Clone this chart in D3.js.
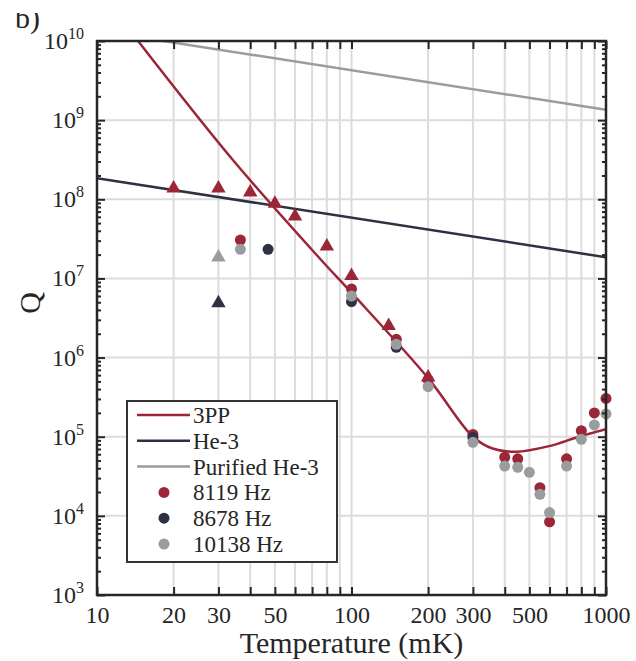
<!DOCTYPE html>
<html>
<head>
<meta charset="utf-8">
<script src="https://cdn.jsdelivr.net/npm/d3@7"></script>
<style>
  body { margin: 0; background: #fff; }
  svg text { font-family: "Liberation Serif", "DejaVu Serif", "Times New Roman", serif !important; fill: #262626; }
</style>
</head>
<body>
<script>
// data (T in mK, Q)
const line3PP = [[14.5,1e10],[34.2,3.13e8],[74.9,1.8e7],[100,6.6e6],[200,5.5e5],[300,1.0e5],[358,7.1e4],[443,6.46e4],[597,7.6e4],[783,1.0e5],[1000,1.24e5]];
const lineHe3 = [[10,1.85e8],[1000,1.85e7]];
const linePurified = [[10,1.35e10],[1000,1.35e9]];

const triRed = [[20,1.34e8],[30,1.34e8],[40,1.19e8],[50,8.6e7],[60,5.9e7],[80,2.47e7],[100,1.05e7],[140,2.45e6],[200,5.47e5]];
const triDark = [[30,4.75e6]];
const triGray = [[30,1.8e7]];

const dots8119 = [[36.6,3.06e7],[100,7.35e6],[150,1.7e6],[200,5.2e5],[300,1.07e5],[400,5.5e4],[450,5.25e4],[550,2.27e4],[600,8.4e3],[700,5.25e4],[800,1.19e5],[900,2.0e5],[1000,3.05e5]];
const dots8678 = [[47,2.33e7],[100,5.1e6],[150,1.35e6],[300,9.8e4]];
const dots10138 = [[36.6,2.33e7],[100,6.0e6],[150,1.47e6],[200,4.29e5],[300,8.5e4],[400,4.26e4],[450,4.1e4],[500,3.55e4],[550,1.87e4],[600,1.1e4],[700,4.26e4],[800,9.27e4],[900,1.41e5],[1000,1.94e5]];

const xTicks = [10,20,30,40,50,60,70,80,90,100,200,300,400,500,600,700,800,900,1000];
const xLabels = [10,20,30,50,100,200,300,500,1000];
const yDecades = [1e3,1e4,1e5,1e6,1e7,1e8,1e9,1e10];

const red = "#9b2638", dark = "#2e3142", gray = "#9a9d9d";
const serif = '"Liberation Serif", "DejaVu Serif", "Times New Roman", serif';

const width = 636, height = 661;
const mLeft = 97, mRight = 606, mTop = 41, mBottom = 595;

const svg = d3.select("body").append("svg")
  .attr("width", width).attr("height", height)
  .attr("font-family", serif);

const x = d3.scaleLog().domain([10,1000]).range([mLeft,mRight]);
const y = d3.scaleLog().domain([1e3,1e10]).range([mBottom,mTop]);

// minor y ticks
const yMinor = [];
yDecades.slice(0,-1).forEach(d => { for (let k=2;k<10;k++) yMinor.push(d*k); });

// grid
svg.append("g").selectAll("line")
  .data(xTicks.slice(1,-1)).join("line")
  .attr("x1", d=>x(d)).attr("x2", d=>x(d))
  .attr("y1", mTop).attr("y2", mBottom)
  .attr("stroke", "#dcdcdc").attr("stroke-width", 2);
svg.append("g").selectAll("line")
  .data(yDecades.slice(1,-1)).join("line")
  .attr("y1", d=>y(d)).attr("y2", d=>y(d))
  .attr("x1", mLeft).attr("x2", mRight)
  .attr("stroke", "#dcdcdc").attr("stroke-width", 2);

// clip
svg.append("clipPath").attr("id","plot")
  .append("rect").attr("x",mLeft).attr("y",mTop).attr("width",mRight-mLeft).attr("height",mBottom-mTop);

const line = d3.line().x(d=>x(d[0])).y(d=>y(d[1]));

const lines = svg.append("g").attr("clip-path","url(#plot)").attr("fill","none").attr("stroke-width",2.5);
lines.append("path").datum(linePurified).attr("d", line).attr("stroke", gray);
lines.append("path").datum(lineHe3).attr("d", line).attr("stroke", dark);
lines.append("path").datum(line3PP).attr("d", line.curve(d3.curveCatmullRom)).attr("stroke", red);

// markers
const tri = d3.symbol(d3.symbolTriangle, 90);
function triangles(data, color) {
  svg.append("g").selectAll("path").data(data).join("path")
    .attr("d", tri)
    .attr("transform", d=>`translate(${x(d[0])},${y(d[1])-1})`)
    .attr("fill", color);
}
function dots(data, color) {
  svg.append("g").selectAll("circle").data(data).join("circle")
    .attr("cx", d=>x(d[0])).attr("cy", d=>y(d[1])).attr("r", 5.5)
    .attr("fill", color);
}
triangles(triRed, red);
triangles(triGray, gray);
triangles(triDark, dark);
dots(dots8119, red);
dots(dots8678, dark);
dots(dots10138, gray);

// axes
function styleAxis(g) {
  g.attr("font-family", serif);
  g.select(".domain").remove();
  g.selectAll(".tick line").attr("stroke","#262626").attr("stroke-width",2);
  g.selectAll("text").attr("fill","#262626");
}

svg.append("g").attr("transform",`translate(0,${mBottom})`)
  .call(d3.axisBottom(x).tickValues(xTicks).tickSizeInner(-8).tickSizeOuter(0).tickPadding(11)
    .tickFormat(d => xLabels.includes(d) ? d : ""))
  .call(styleAxis)
  .call(g => g.attr("font-size", 24));

svg.append("g").attr("transform",`translate(0,${mTop})`)
  .call(d3.axisTop(x).tickValues(xTicks).tickSizeInner(-8).tickSizeOuter(0).tickFormat(""))
  .call(styleAxis);

svg.append("g").attr("transform",`translate(${mLeft},0)`)
  .call(d3.axisLeft(y).tickValues(yDecades).tickSizeInner(-8).tickSizeOuter(0).tickFormat(""))
  .call(styleAxis);
svg.append("g").attr("transform",`translate(${mLeft},0)`)
  .call(d3.axisLeft(y).tickValues(yMinor).tickSizeInner(-4).tickSizeOuter(0).tickFormat(""))
  .call(styleAxis);
svg.append("g").attr("transform",`translate(${mRight},0)`)
  .call(d3.axisRight(y).tickValues(yDecades).tickSizeInner(-8).tickSizeOuter(0).tickFormat(""))
  .call(styleAxis);
svg.append("g").attr("transform",`translate(${mRight},0)`)
  .call(d3.axisRight(y).tickValues(yMinor).tickSizeInner(-4).tickSizeOuter(0).tickFormat(""))
  .call(styleAxis);

// y labels with superscripts
const ylab = svg.append("g").selectAll("text").data(yDecades).join("text")
  .attr("x", 84).attr("y", d=>y(d)+8)
  .attr("text-anchor","end").attr("font-size",24);
ylab.append("tspan").text("10");
ylab.append("tspan").attr("font-size",16).attr("dy",-10).text(d=>Math.round(Math.log10(d)));

// box
svg.append("rect").attr("x",mLeft).attr("y",mTop).attr("width",mRight-mLeft).attr("height",mBottom-mTop)
  .attr("fill","none").attr("stroke","#262626").attr("stroke-width",2.5);

// axis titles
svg.append("text").attr("x",(mLeft+mRight)/2).attr("y",653)
  .attr("text-anchor","middle").attr("font-size",30).text("Temperature (mK)");
svg.append("text").attr("transform","translate(40,303) rotate(-90)")
  .attr("text-anchor","middle").attr("font-size",30).text("Q");

// panel label (top part cropped)
svg.append("clipPath").attr("id","lab").append("rect").attr("x",0).attr("y",13).attr("width",80).attr("height",30);
svg.append("text").attr("x",15).attr("y",28).attr("font-size",30).attr("clip-path","url(#lab)").text("b)");

// legend
const legendItems = [
  {label:"3PP", color:red, type:"line"},
  {label:"He-3", color:dark, type:"line"},
  {label:"Purified He-3", color:gray, type:"line"},
  {label:"8119 Hz", color:red, type:"dot"},
  {label:"8678 Hz", color:dark, type:"dot"},
  {label:"10138 Hz", color:gray, type:"dot"}
];
const lg = svg.append("g");
lg.append("rect").attr("x",127).attr("y",401).attr("width",210).attr("height",161)
  .attr("fill","#fff").attr("stroke","#333").attr("stroke-width",2);
const row = lg.selectAll("g").data(legendItems).join("g")
  .attr("transform",(d,i)=>`translate(0,${415 + i*25.8})`);
row.filter(d=>d.type==="line").append("line")
  .attr("x1",137).attr("x2",190).attr("stroke",d=>d.color).attr("stroke-width",2.5);
row.filter(d=>d.type==="dot").append("circle")
  .attr("cx",164).attr("r",5.5).attr("fill",d=>d.color);
row.append("text").attr("x",193).attr("y",8).attr("font-size",23).text(d=>d.label);
</script>
</body>
</html>
